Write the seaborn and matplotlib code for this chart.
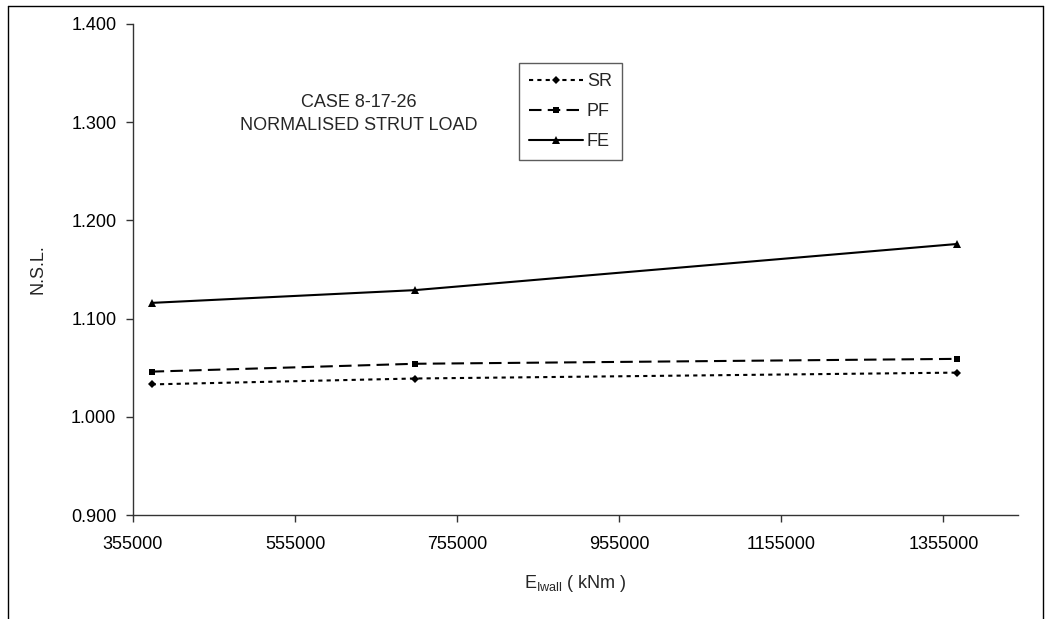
import matplotlib
matplotlib.use("Agg")
import matplotlib.pyplot as plt
from matplotlib.lines import Line2D
from matplotlib.ticker import FormatStrFormatter, MultipleLocator
import seaborn as sns
import pandas as pd

# Wall bending stiffness E*I (kNm) and normalised strut load per method
e_iwall = [378000, 703000, 1372000]
sr_vals = [1.033, 1.039, 1.045]
pf_vals = [1.046, 1.054, 1.059]
fe_vals = [1.116, 1.129, 1.176]
series_names = ["SR", "PF", "FE"]
x_ticks = [355000, 555000, 755000, 955000, 1155000, 1355000]

sns.set_style("white")
plt.rcParams["font.family"] = ["Liberation Sans", "DejaVu Sans"]
plt.rcParams["mathtext.fontset"] = "custom"
plt.rcParams["mathtext.rm"] = "Liberation Sans"

W, H = 1051, 619
fig = plt.figure(figsize=(W / 100, H / 100), dpi=100)
ax = fig.add_axes([133 / W, 1 - 515 / H, (1018 - 133) / W, (515 - 24) / H])

styles = {
    "SR": dict(linestyle=(0, (2, 2)), marker="D", markersize=4.5),
    "PF": dict(linestyle=(0, (6, 3)), marker="s", markersize=4.5),
    "FE": dict(linestyle="-", marker="^", markersize=5.5),
}
values = {"SR": sr_vals, "PF": pf_vals, "FE": fe_vals}

for name in series_names:
    df = pd.DataFrame({"E": e_iwall, "NSL": values[name]})
    sns.lineplot(data=df, x="E", y="NSL", ax=ax, color="black", linewidth=1.5,
                 label=name, markeredgewidth=0, sort=False, **styles[name])

ax.set_xlim(355000, 1447000)
ax.set_ylim(0.9, 1.4)
ax.set_xticks(x_ticks)
ax.set_xticklabels([str(t) for t in x_ticks])
ax.yaxis.set_major_locator(MultipleLocator(0.1))
ax.yaxis.set_major_formatter(FormatStrFormatter("%.3f"))

for side in ("top", "right"):
    ax.spines[side].set_visible(False)
for side in ("left", "bottom"):
    ax.spines[side].set_color("#333333")
    ax.spines[side].set_linewidth(1.0)

ax.tick_params(axis="both", which="major", direction="out", length=5, width=1,
               color="#333333", labelsize=13, labelcolor="black", left=True, bottom=True)
ax.tick_params(axis="y", pad=7)
ax.tick_params(axis="x", pad=10)

ax.set_ylabel("N.S.L.", fontsize=13)
ax.yaxis.set_label_coords((47 - 133) / (1018 - 133), 0.5)
ax.set_xlabel(r"E$_{\mathregular{Iwall}}$ ( kNm )", fontsize=13)
ax.xaxis.set_label_coords(0.5, -(573 - 515) / (515 - 24))

fig.text(359 / W, 1 - 114 / H, "CASE 8-17-26\nNORMALISED STRUT LOAD",
         ha="center", va="center", fontsize=13, linespacing=1.4)

handles, labels = ax.get_legend_handles_labels()
leg = ax.legend(handles, labels, loc="upper left",
                bbox_to_anchor=(519 / W, 1 - 63 / H), bbox_transform=fig.transFigure,
                borderaxespad=0, frameon=True, fancybox=False, fontsize=13,
                handlelength=3.0, handletextpad=0.2, labelspacing=0.72,
                borderpad=0.55, numpoints=1, markerfirst=True)
leg.get_frame().set_edgecolor("#333333")
leg.get_frame().set_linewidth(1.0)

# chart-area frame
frame_kw = dict(transform=fig.transFigure, color="black", linewidth=1.0)
fig.add_artist(Line2D([8 / W, 8 / W], [1 - 6 / H, 0], **frame_kw))
fig.add_artist(Line2D([8 / W, 1043 / W], [1 - 6 / H, 1 - 6 / H], **frame_kw))
fig.add_artist(Line2D([1043 / W, 1043 / W], [1 - 6 / H, 0], **frame_kw))

fig.savefig("out.png", dpi=100)
